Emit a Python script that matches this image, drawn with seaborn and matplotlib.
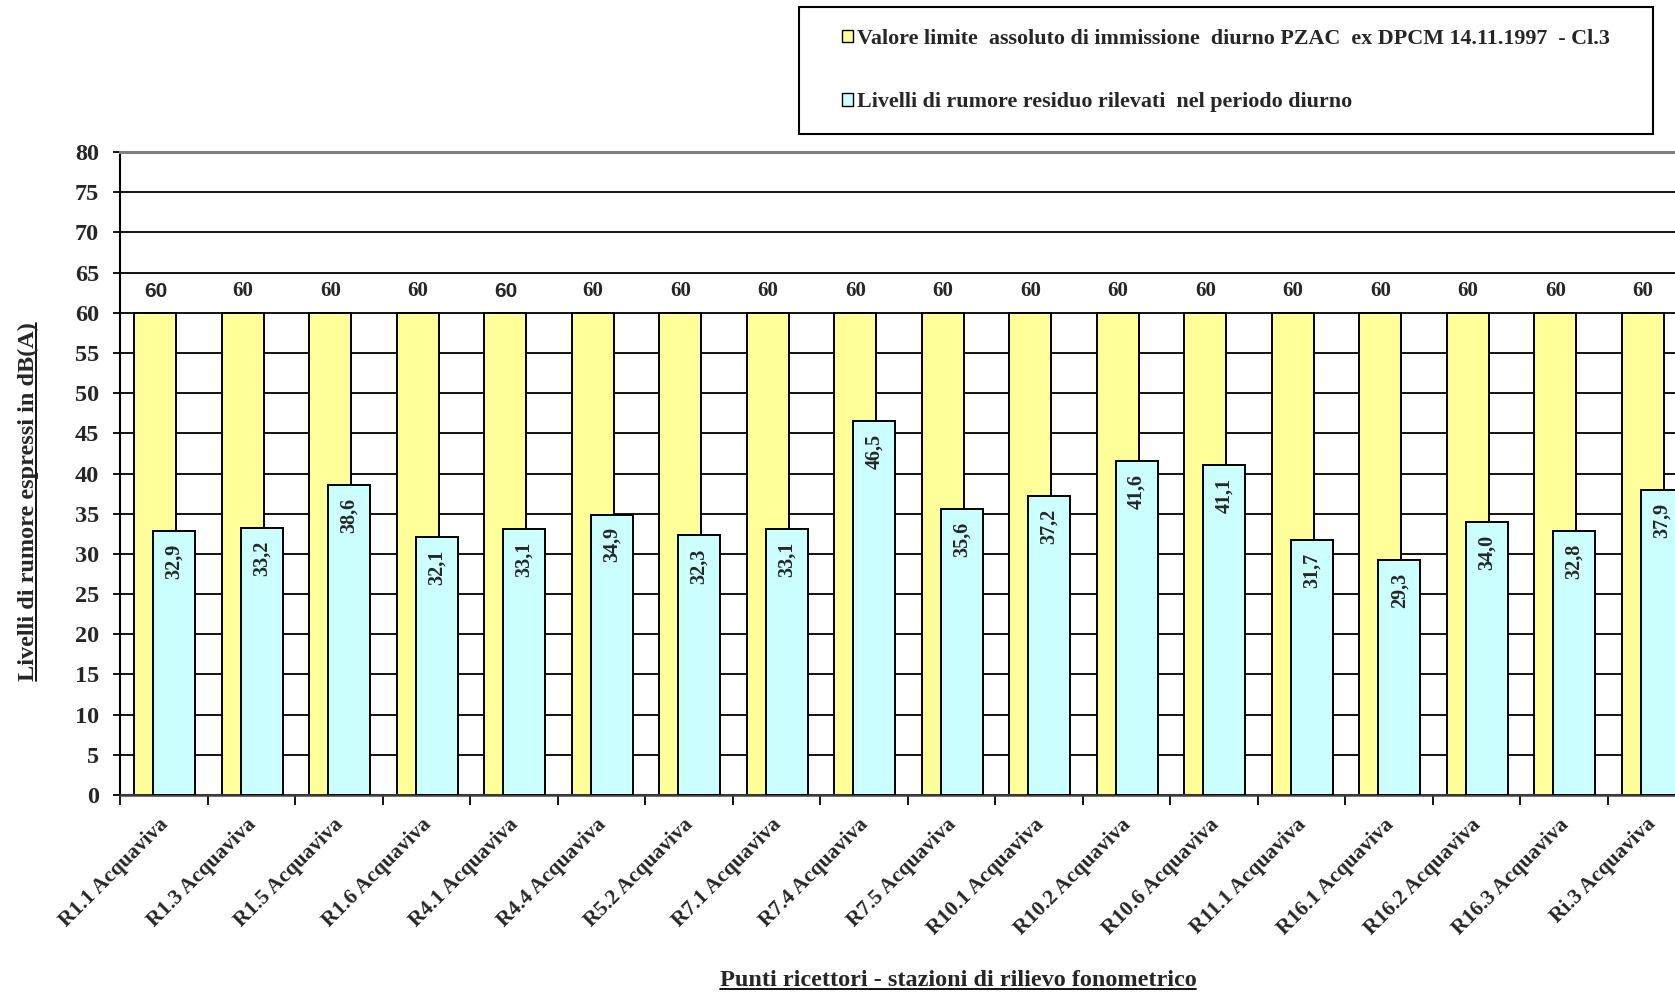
import numpy as np
import pandas as pd
import matplotlib
matplotlib.use('Agg')
import matplotlib.pyplot as plt
from matplotlib.patches import Patch, Rectangle
from matplotlib.lines import Line2D
import seaborn as sns

# ============= DATA =============
stations = ['R1.1', 'R1.3', 'R1.5', 'R1.6', 'R4.1', 'R4.4', 'R5.2', 'R7.1', 'R7.4',
            'R7.5', 'R10.1', 'R10.2', 'R10.6', 'R11.1', 'R16.1', 'R16.2', 'R16.3', 'Ri.3']
station_labels = [s + ' Acquaviva' for s in stations]
limit_values = [60, 60, 60, 60, 60, 60, 60, 60, 60, 60, 60, 60, 60, 60, 60, 60, 60, 60]
residual_values = [32.9, 33.2, 38.6, 32.1, 33.1, 34.9, 32.3, 33.1, 46.5,
                   35.6, 37.2, 41.6, 41.1, 31.7, 29.3, 34.0, 32.8, 37.9]
yticks = list(range(0, 85, 5))

limit_label = 'Valore limite  assoluto di immissione  diurno PZAC  ex DPCM 14.11.1997  - Cl.3'
residual_label = 'Livelli di rumore residuo rilevati  nel periodo diurno'
xlabel = 'Punti ricettori - stazioni di rilievo fonometrico'
ylabel = 'Livelli di rumore espressi in dB(A)'

YELLOW = '#FFFF99'
CYAN = '#CCFFFF'
SERIF = 'Liberation Serif'
SANS = 'Liberation Sans'
# the original chart has two of the "60" labels in Arial
sans_limit_labels = {0, 4}

# ============= PLOT =============
sns.set_style('white')
plt.rcParams['font.family'] = [SERIF, 'DejaVu Serif']
plt.rcParams['font.weight'] = 'bold'

n = len(stations)
idx = np.arange(n)
df = pd.DataFrame({
    'station': station_labels,
    'pos_limit': idx + 0.405,
    'pos_residual': idx + 0.62,
    'limit': limit_values,
    'residual': residual_values,
})

fig = plt.figure(figsize=(16.75, 9.93), dpi=100)
# plot area runs past the right edge of the figure, like the cropped original
ax = fig.add_axes([120 / 1675, 0.1994, 1575 / 1675, 0.6475])

sns.barplot(data=df, x='pos_limit', y='limit', native_scale=True, width=0.48,
            color=YELLOW, saturation=1, edgecolor='black', linewidth=1.4,
            errorbar=None, zorder=2, ax=ax)
sns.barplot(data=df, x='pos_residual', y='residual', native_scale=True, width=0.48,
            color=CYAN, saturation=1, edgecolor='black', linewidth=1.4,
            errorbar=None, zorder=3, ax=ax)

ax.set_xlim(0, n)
ax.set_ylim(0, 80)
ax.set_xlabel('')
ax.set_ylabel('')

# gridlines and ticks
ax.set_yticks(yticks)
ax.set_yticklabels([str(v) for v in yticks], fontsize=17.5, fontweight='bold', family=SERIF)
ax.yaxis.grid(True, color='black', linewidth=1.3)
ax.xaxis.grid(False)
ax.set_axisbelow(True)
ax.tick_params(axis='y', direction='out', length=5, width=1.3, color='black', pad=10, left=True)

ax.set_xticks(idx + 0.44)
ax.set_xticklabels(station_labels, rotation=45, ha='right', rotation_mode='anchor',
                   fontsize=15.5, fontweight='bold', family=SERIF)
ax.set_xticks(np.arange(n + 1), minor=True)
ax.tick_params(axis='x', which='major', length=0, pad=14)
ax.tick_params(axis='x', which='minor', direction='out', length=7, width=1.3,
               color='black', bottom=True)

for side in ['left', 'bottom', 'top']:
    ax.spines[side].set_visible(True)
ax.spines['left'].set_color('black')
ax.spines['left'].set_linewidth(1.5)
ax.spines['bottom'].set_color('#404040')
ax.spines['bottom'].set_linewidth(1.8)
ax.spines['top'].set_color('#808080')
ax.spines['top'].set_linewidth(2.2)
ax.spines['right'].set_visible(False)

# value labels
for i, (p, v) in enumerate(zip(df['pos_limit'], df['limit'])):
    fam = SANS if i in sans_limit_labels else SERIF
    ax.text(p, v + 2.7, str(v), ha='center', va='center', fontsize=15,
            fontweight='bold', family=fam, zorder=5)
for p, v in zip(df['pos_residual'], df['residual']):
    ax.text(p, v - 1.6, f'{v:.1f}'.replace('.', ','), rotation=90, ha='center',
            va='top', fontsize=14.5, fontweight='bold', family=SERIF, zorder=5)

# legend (box drawn separately so its padding can differ per side)
fig.add_artist(Rectangle((799 / 1675, 1 - 133.5 / 993), 854 / 1675, 126 / 993,
                         transform=fig.transFigure, fill=False, edgecolor='black',
                         linewidth=1.5))
handles = [Patch(facecolor=YELLOW, edgecolor='black', linewidth=1.0),
           Patch(facecolor=CYAN, edgecolor='black', linewidth=1.0)]
leg = fig.legend(handles, [limit_label, residual_label], loc='center left',
                 bbox_to_anchor=(842 / 1675, 1 - 70.5 / 993),
                 prop={'family': SERIF, 'weight': 'bold', 'size': 15.8},
                 handlelength=0.5, handleheight=0.5, handletextpad=0.2,
                 labelspacing=2.0, borderpad=0, borderaxespad=0, frameon=False)

# axis titles
xt = fig.text(958 / 1675, 1 - 981 / 993, xlabel, ha='center', va='center',
              fontsize=17.5, fontweight='bold', family=SERIF)
yt = fig.text(28 / 1675, 1 - 502 / 993, ylabel, ha='center', va='center',
              rotation=90, fontsize=17.5, fontweight='bold', family=SERIF)


def underline(txt, vertical=False):
    fig.canvas.draw()
    bb = txt.get_window_extent()
    inv = fig.transFigure.inverted()
    if vertical:
        x = bb.x1 - 3
        (x0, y0), (x1, y1) = inv.transform([(x, bb.y0), (x, bb.y1)])
    else:
        y = bb.y0 + 3
        (x0, y0), (x1, y1) = inv.transform([(bb.x0, y), (bb.x1, y)])
    fig.add_artist(Line2D([x0, x1], [y0, y1], transform=fig.transFigure,
                          color='black', linewidth=1.3))


underline(xt)
underline(yt, vertical=True)

fig.savefig('out.png', dpi=100)
